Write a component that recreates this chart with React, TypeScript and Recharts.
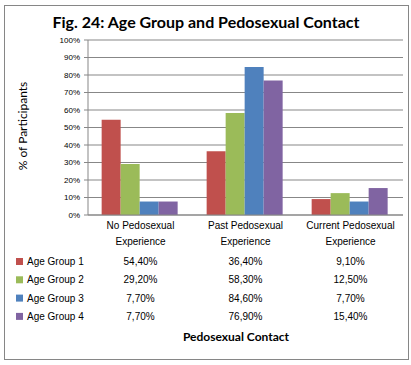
import React from "react";
import { BarChart, Bar, XAxis, YAxis, CartesianGrid } from "recharts";

const categories = ["No Pedosexual|Experience", "Past Pedosexual|Experience", "Current Pedosexual|Experience"];
const seriesNames = ["Age Group 1", "Age Group 2", "Age Group 3", "Age Group 4"];
const ageGroup1 = [54.4, 36.4, 9.1];
const ageGroup2 = [29.2, 58.3, 12.5];
const ageGroup3 = [7.7, 84.6, 7.7];
const ageGroup4 = [7.7, 76.9, 15.4];
const yTicks = [0, 10, 20, 30, 40, 50, 60, 70, 80, 90, 100];
const colors = ["#C0504D", "#9BBB59", "#4F81BD", "#8064A2"];

const allSeries = [ageGroup1, ageGroup2, ageGroup3, ageGroup4];
const data = categories.map((c, i) => ({
  name: c,
  g1: ageGroup1[i],
  g2: ageGroup2[i],
  g3: ageGroup3[i],
  g4: ageGroup4[i],
}));

const fmt = (v: number) => v.toFixed(2).replace(".", ",") + "%";
const tableFont = "'Liberation Sans', Arial, sans-serif";

const CategoryTick = (props: any) => {
  const { x, y, payload, index } = props;
  const lines = String(payload.value).split("|");
  return (
    <g>
      {lines.map((l, k) => (
        <text key={k} x={x} y={y + 14 + k * 16} textAnchor="middle" fontSize={10} fill="#000" fontFamily={tableFont}>
          {l}
        </text>
      ))}
      {allSeries.map((s, r) => (
        <text key={"v" + r} x={x} y={y + 50 + r * 18.3} textAnchor="middle" fontSize={10} fill="#000" fontFamily={tableFont}>
          {fmt(s[index])}
        </text>
      ))}
      {index === 0 &&
        seriesNames.map((n, r) => (
          <g key={"l" + r}>
            <rect x={16} y={y + 43 + r * 18.3} width={7} height={7} fill={colors[r]} />
            <text x={27} y={y + 50 + r * 18.3} fontSize={10} fill="#000" fontFamily={tableFont}>
              {n}
            </text>
          </g>
        ))}
    </g>
  );
};

export default function App() {
  return (
    <div style={{ position: "absolute", left: 0, top: 0, width: 411, height: 365, background: "#fff" }}>
      <BarChart
        width={411}
        height={365}
        data={data}
        margin={{ top: 40, right: 8, bottom: 0, left: 0 }}
        barCategoryGap="13%"
        barGap={0}
      >
        <CartesianGrid vertical={false} stroke="#878787" strokeWidth={1} />
        <XAxis
          dataKey="name"
          height={150}
          interval={0}
          axisLine={{ stroke: "#878787" }}
          tickLine={false}
          tickSize={0}
          tickMargin={0}
          tick={<CategoryTick />}
        />
        <YAxis
          width={88}
          domain={[0, 100]}
          ticks={yTicks}
          interval={0}
          tickFormatter={(v: number) => v + "%"}
          axisLine={{ stroke: "#878787" }}
          tickLine={{ stroke: "#878787" }}
          tickSize={4}
          tickMargin={4}
          tick={{ fontSize: 8, fill: "#000", fontFamily: tableFont }}
        />
        <Bar dataKey="g1" fill={colors[0]} isAnimationActive={false} />
        <Bar dataKey="g2" fill={colors[1]} isAnimationActive={false} />
        <Bar dataKey="g3" fill={colors[2]} isAnimationActive={false} />
        <Bar dataKey="g4" fill={colors[3]} isAnimationActive={false} />
      </BarChart>
      <svg width={411} height={365} style={{ position: "absolute", left: 0, top: 0, pointerEvents: "none" }}>
        <rect x={4.5} y={5.5} width={404} height={354} fill="none" stroke="#868686" strokeWidth={1} />
        <text x={206} y={28} textAnchor="middle" fontSize={16} fontWeight="bold" fill="#000" fontFamily="Lato, 'Open Sans', sans-serif">
          Fig. 24: Age Group and Pedosexual Contact
        </text>
        <text
          x={0}
          y={0}
          transform="translate(27,126) rotate(-90)"
          textAnchor="middle"
          fontSize={12}
          fill="#000"
          fontFamily="Lato, 'Open Sans', sans-serif"
        >
          % of Participants
        </text>
        <text x={236} y={341} textAnchor="middle" fontSize={12} fontWeight="bold" fill="#000" fontFamily="Lato, 'Open Sans', sans-serif">
          Pedosexual Contact
        </text>
      </svg>
    </div>
  );
}
